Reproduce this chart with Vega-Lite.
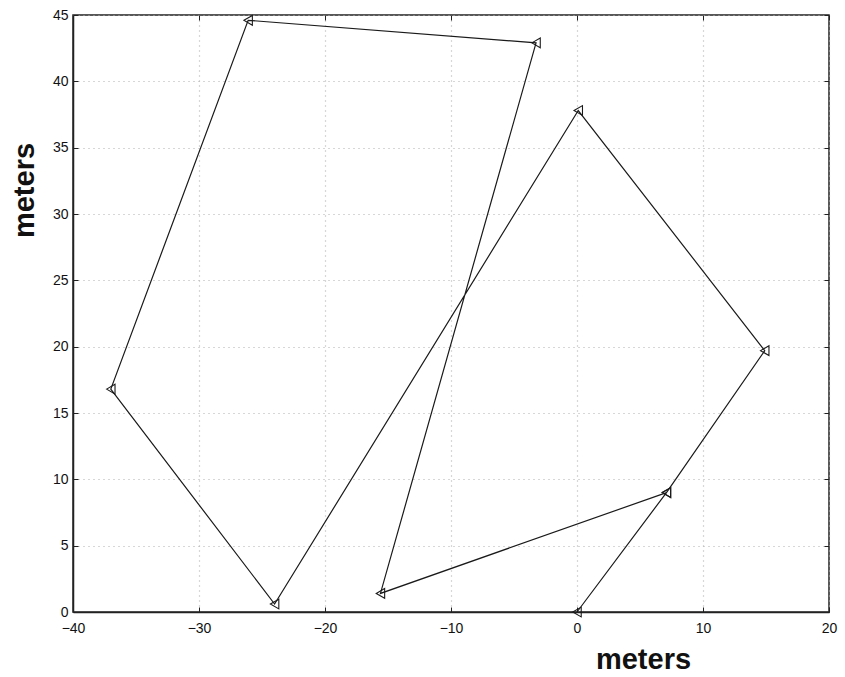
{
  "$schema": "https://vega.github.io/schema/vega-lite/v6.json",
  "width": 756,
  "height": 597,
  "autosize": {"type": "none"},
  "padding": {"left": 73, "top": 15, "right": 16, "bottom": 65},
  "background": "white",
  "config": {
    "view": {"stroke": "#222", "strokeWidth": 1.5},
    "axis": {
      "domainColor": "#222",
      "domainWidth": 1.5,
      "tickColor": "#222",
      "tickWidth": 1,
      "tickSize": -5,
      "gridColor": "#b0b0b0",
      "gridDash": [1, 4],
      "gridWidth": 1.2,
      "labelFont": "Liberation Sans",
      "labelFontSize": 14,
      "labelColor": "#111",
      "titleFont": "Liberation Sans",
      "titleFontWeight": "bold",
      "titleFontSize": 29,
      "titleColor": "#111"
    }
  },
  "data": {
    "values": [
      {"step": 0, "x": 0, "y": 0},
      {"step": 1, "x": 7.1, "y": 9.0},
      {"step": 2, "x": 14.9, "y": 19.7},
      {"step": 3, "x": 0.1, "y": 37.8},
      {"step": 4, "x": -24.0, "y": 0.6},
      {"step": 5, "x": -37.0, "y": 16.8},
      {"step": 6, "x": -26.1, "y": 44.6},
      {"step": 7, "x": -3.25, "y": 42.9},
      {"step": 8, "x": -15.6, "y": 1.4},
      {"step": 9, "x": 7.1, "y": 9.0}
    ]
  },
  "layer": [
    {
      "mark": {"type": "line", "color": "#1a1a1a", "strokeWidth": 1.2},
      "encoding": {
        "x": {
          "field": "x", "type": "quantitative",
          "scale": {"domain": [-40, 20], "nice": false, "zero": false},
          "axis": {
            "title": "meters", "values": [-40, -30, -20, -10, 0, 10, 20],
            "grid": true, "labelPadding": 14, "labelFlush": false,
            "titleX": 570, "titleY": 56, "titleBaseline": "alphabetic", "titleAlign": "center", "titleAnchor": null
          }
        },
        "y": {
          "field": "y", "type": "quantitative",
          "scale": {"domain": [0, 45], "nice": false, "zero": false},
          "axis": {
            "title": "meters", "values": [0, 5, 10, 15, 20, 25, 30, 35, 40, 45],
            "grid": true, "labelPadding": 10, "labelFlush": false,
            "titleX": -40, "titleY": 175, "titleAngle": -90, "titleBaseline": "alphabetic", "titleAlign": "center", "titleAnchor": null
          }
        },
        "order": {"field": "step", "type": "quantitative"}
      }
    },
    {
      "mark": {"type": "point", "shape": "triangle-left", "filled": false, "color": "#1a1a1a", "size": 95, "strokeWidth": 1.1, "opacity": 1},
      "encoding": {
        "x": {"field": "x", "type": "quantitative", "axis": null},
        "y": {"field": "y", "type": "quantitative", "axis": null}
      }
    },
    {
      "mark": {"type": "point", "opacity": 0},
      "encoding": {
        "x": {"field": "x", "type": "quantitative", "axis": {"orient": "top", "title": null, "labels": false, "grid": false, "domain": false, "values": [-40, -30, -20, -10, 0, 10, 20]}},
        "y": {"field": "y", "type": "quantitative", "axis": {"orient": "right", "title": null, "labels": false, "grid": false, "domain": false, "values": [0, 5, 10, 15, 20, 25, 30, 35, 40, 45]}}
      }
    }
  ],
  "resolve": {"axis": {"x": "independent", "y": "independent"}}
}
